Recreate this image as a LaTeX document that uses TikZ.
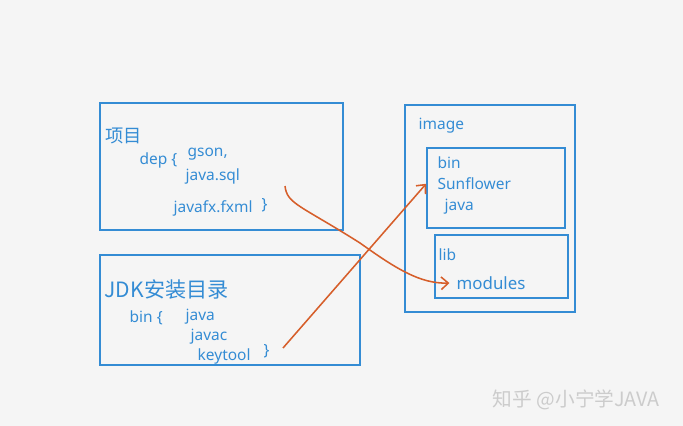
\documentclass[tikz,border=0pt]{standalone}
\usepackage{fontspec}
\setmainfont{Noto Sans}
\newfontfamily\cjk{Noto Sans CJK SC}
\usetikzlibrary{arrows.meta}
\definecolor{penblue}{RGB}{52,140,212}
\definecolor{penorange}{RGB}{214,94,42}
\definecolor{paper}{RGB}{245,245,245}
\begin{document}
\begin{tikzpicture}[x=0.025cm, y=-0.025cm,
        box/.style={draw=penblue, line width=1.2pt, inner sep=0pt},
        txt/.style={anchor=west, text=penblue, inner sep=1pt, font=\fontsize{11}{13}\selectfont},
        link/.style={draw=penorange, line width=1.1pt, -{Straight Barb[length=5pt,width=9pt]}}]
        \useasboundingbox [fill=paper] (0,0) rectangle (683,426);
        % project box
        \node [box, minimum width=6.075cm, minimum height=3.175cm] (proj) at (221.5,166.5) {};
        \node [txt, font=\cjk\fontsize{13}{15}\selectfont] (projname) at (104,136) {项目};
        \node [txt] (dep) at (138,160) {dep \{};
        \node [txt] (gson) at (186,154) {gson,};
        \node [txt] (jsql) at (184,176) {java.sql};
        \node [txt] (jfx) at (172,208) {javafx.fxml};
        \node [txt] (close1) at (260,205) {\}};
        % jdk box
        \node [box, minimum width=6.5cm, minimum height=2.75cm] (jdkbox) at (230,310) {};
        \node [txt, font=\cjk\fontsize{15}{17}\selectfont] (jdk) at (103,290) {JDK安装目录};
        \node [txt] (jdkbin) at (128,318) {bin \{};
        \node [txt] (java) at (184,317) {java};
        \node [txt] (javac) at (189,337) {javac};
        \node [txt] (keytool) at (196,356) {keytool};
        \node [txt] (close2) at (262,351) {\}};
        % image box
        \node [box, minimum width=4.25cm, minimum height=5.175cm] (image) at (490,208.5) {};
        \node [txt] (imagename) at (417,126) {image};
        \node [box, minimum width=3.45cm, minimum height=2.0cm] (binbox) at (496,188) {};
        \node [txt] (imgbin) at (436,163) {bin};
        \node [txt] (sunflower) at (436,184) {Sunflower};
        \node [txt] (imgjava) at (443,207) {java};
        \node [box, minimum width=3.325cm, minimum height=1.575cm] (libbox) at (501.5,266.5) {};
        \node [txt] (lib) at (437,255) {lib};
        \node [txt, font=\fontsize{12}{14}\selectfont] (modules) at (455,283) {modules};
        % links
        \coordinate (s1) at (285,186);
        \coordinate (s2) at (283,348);
        \draw [link] (s1) .. controls (287,204) and (300,205) .. (360,243) .. controls (395,268) and (420,284) .. ([xshift=-4pt]modules.west);
        \draw [link] (s2) -- ([yshift=3pt]binbox.west);
        % watermark
        \node [anchor=west, text=black!20, font=\cjk\fontsize{14}{16}\selectfont] (mark) at (488,400) {知乎 @小宁学JAVA};
\end{tikzpicture}
\end{document}
